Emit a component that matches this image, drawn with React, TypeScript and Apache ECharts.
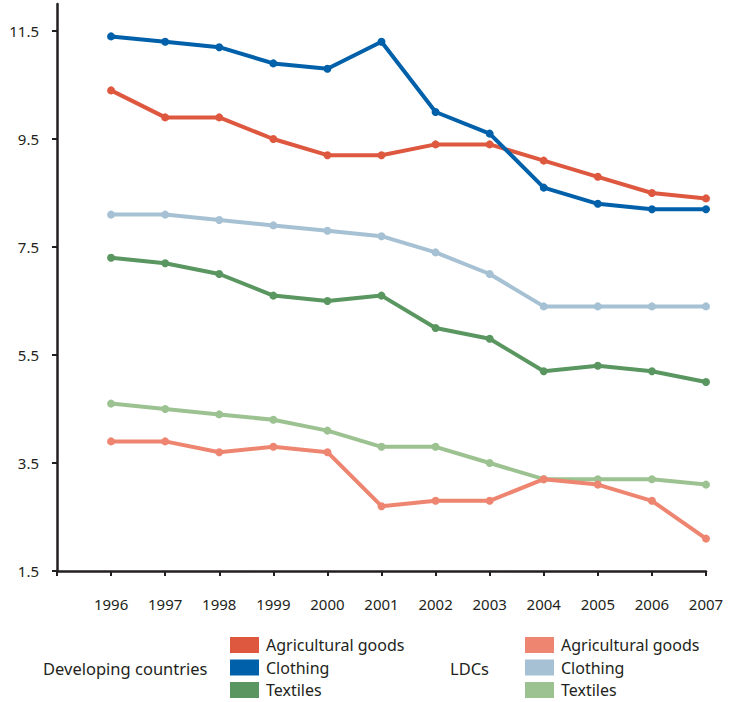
import React, { useEffect, useRef } from "react";
import * as echarts from "echarts";

const years = ["", "1996", "1997", "1998", "1999", "2000", "2001", "2002", "2003", "2004", "2005", "2006", "2007"];
const yTicks = [1.5, 3.5, 5.5, 7.5, 9.5, 11.5];

const devAgri = [10.4, 9.9, 9.9, 9.5, 9.2, 9.2, 9.4, 9.4, 9.1, 8.8, 8.5, 8.4];
const devClothing = [11.4, 11.3, 11.2, 10.9, 10.8, 11.3, 10.0, 9.6, 8.6, 8.3, 8.2, 8.2];
const devTextiles = [7.3, 7.2, 7.0, 6.6, 6.5, 6.6, 6.0, 5.8, 5.2, 5.3, 5.2, 5.0];
const ldcAgri = [3.9, 3.9, 3.7, 3.8, 3.7, 2.7, 2.8, 2.8, 3.2, 3.1, 2.8, 2.1];
const ldcClothing = [8.1, 8.1, 8.0, 7.9, 7.8, 7.7, 7.4, 7.0, 6.4, 6.4, 6.4, 6.4];
const ldcTextiles = [4.6, 4.5, 4.4, 4.3, 4.1, 3.8, 3.8, 3.5, 3.2, 3.2, 3.2, 3.1];

const devNames = ["Dev|Agricultural goods", "Dev|Clothing", "Dev|Textiles"];
const ldcNames = ["LDC|Agricultural goods", "LDC|Clothing", "LDC|Textiles"];

const FONT = "'Noto Sans', sans-serif";
const TEXT = "#231F20";

export default function App() {
  const ref = useRef<HTMLDivElement>(null);
  useEffect(() => {
    document.body.style.margin = "0";
    const chart = echarts.init(ref.current!, null, { renderer: "svg" });
    const mk = (name: string, data: number[], color: string, z: number) => ({
      name,
      type: "line",
      data: [null, ...data],
      z,
      symbol: "circle",
      symbolSize: 8,
      lineStyle: { color, width: 4 },
      itemStyle: { color },
      color,
    });
    const legendBase = {
      orient: "vertical",
      icon: "rect",
      itemWidth: 29,
      itemHeight: 16,
      itemGap: 6.5,
      textStyle: { fontFamily: FONT, fontSize: 16, lineHeight: 16, color: TEXT, padding: [0, 0, 0, 2] },
      formatter: (n: string) => n.split("|")[1],
      selectedMode: false,
      padding: 0,
    };
    chart.setOption({
      animation: false,
      textStyle: { fontFamily: FONT },
      grid: { left: 57, right: 26, top: 4, bottom: 131 },
      xAxis: {
        type: "category",
        data: years,
        boundaryGap: false,
        axisLine: { lineStyle: { color: TEXT, width: 2.5 } },
        axisTick: { show: true, length: 5, lineStyle: { color: TEXT, width: 2 } },
        axisLabel: { color: TEXT, fontSize: 15, margin: 25, fontFamily: FONT },
        splitLine: { show: false },
      },
      yAxis: {
        type: "value",
        min: 1.5,
        max: 12,
        interval: 2,
        axisLine: { show: true, lineStyle: { color: TEXT, width: 2.5 } },
        axisTick: { show: true, length: 5, lineStyle: { color: TEXT, width: 2 }, customValues: yTicks },
        axisLabel: { color: TEXT, fontSize: 15, margin: 18, fontFamily: FONT, customValues: yTicks },
        splitLine: { show: false },
      },
      legend: [
        { ...legendBase, left: 230, top: 637, data: devNames },
        { ...legendBase, left: 525, top: 637, data: ldcNames },
      ],
      graphic: [
        { type: "text", x: 43, y: 668, style: { text: "Developing countries", fontFamily: FONT, fontSize: 16.5, fill: TEXT, verticalAlign: "middle" } },
        { type: "text", x: 450, y: 668, style: { text: "LDCs", fontFamily: FONT, fontSize: 16.5, fill: TEXT, verticalAlign: "middle" } },
      ],
      series: [
        mk(ldcNames[2], ldcTextiles, "#9DC291", 2),
        mk(ldcNames[0], ldcAgri, "#EE8570", 3),
        mk(ldcNames[1], ldcClothing, "#A5C1D3", 2),
        mk(devNames[2], devTextiles, "#5A9660", 4),
        mk(devNames[0], devAgri, "#DE5840", 4),
        mk(devNames[1], devClothing, "#0060A9", 5),
      ],
    });
    return () => chart.dispose();
  }, []);
  return <div ref={ref} style={{ width: 732, height: 702 }} />;
}
